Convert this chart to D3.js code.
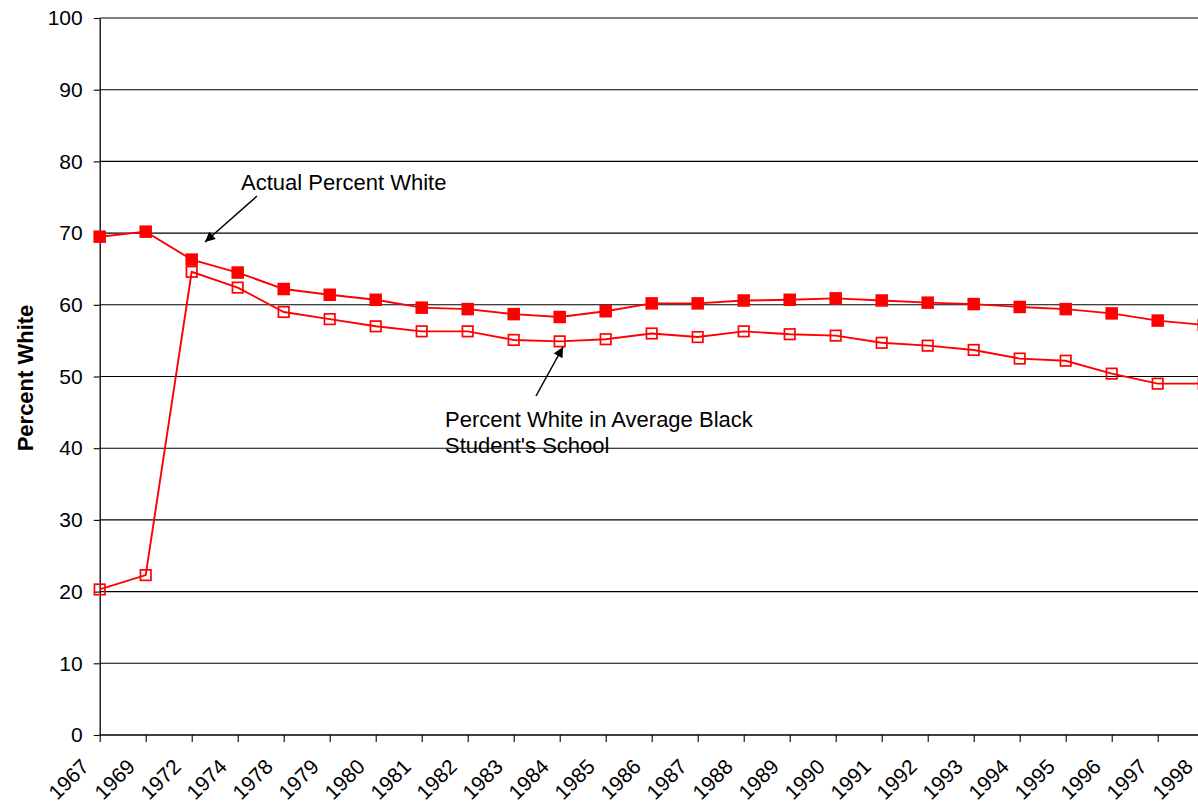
<!DOCTYPE html>
<html>
<head>
<meta charset="utf-8">
<script src="https://cdn.jsdelivr.net/npm/d3@7"></script>
<style>
  html, body { margin: 0; padding: 0; background: #fff; overflow: hidden; }
  svg { display: block; font-family: Arial, "Liberation Sans", sans-serif; }
</style>
</head>
<body>
<svg id="chart" width="1198" height="806"></svg>
<script>
// Survey years along the category axis
const years = ["1967","1969","1972","1974","1978","1979","1980","1981","1982","1983",
  "1984","1985","1986","1987","1988","1989","1990","1991","1992","1993",
  "1994","1995","1996","1997","1998"];

// Percent white of all students
const actualWhite = [69.5, 70.2, 66.3, 64.5, 62.2, 61.4, 60.7, 59.6, 59.4, 58.7,
  58.3, 59.1, 60.2, 60.2, 60.6, 60.7, 60.9, 60.6, 60.3, 60.1,
  59.7, 59.4, 58.8, 57.8, 57.2];

// Percent white in the school of the average black student
const blackSchoolWhite = [20.3, 22.3, 64.6, 62.4, 59.0, 58.0, 57.0, 56.3, 56.3, 55.1,
  54.9, 55.2, 56.0, 55.5, 56.3, 55.9, 55.7, 54.7, 54.3, 53.7,
  52.5, 52.2, 50.4, 49.0, 49.0];

const yTicks = [0, 10, 20, 30, 40, 50, 60, 70, 80, 90, 100];

const svg = d3.select("#chart");
const plotLeft = 99.7, plotTop = 18, plotBottom = 735;
const step = 46.0;

const x = d3.scalePoint().domain(years).range([plotLeft, plotLeft + step * (years.length - 1)]);
const y = d3.scaleLinear().domain([0, 100]).range([plotBottom, plotTop]);

// Horizontal gridlines
svg.append("g")
  .selectAll("line")
  .data(yTicks.filter(d => d > 0))
  .join("line")
  .attr("x1", plotLeft).attr("x2", 1198)
  .attr("y1", d => y(d)).attr("y2", d => y(d))
  .attr("stroke", "#000").attr("stroke-width", 1.1);

// Y axis
const yAxis = svg.append("g")
  .attr("transform", `translate(${plotLeft},0)`)
  .call(d3.axisLeft(y).tickValues(yTicks).tickSize(6).tickSizeOuter(0).tickPadding(11));
yAxis.select(".domain").attr("stroke", "#000").attr("stroke-width", 1.3);
yAxis.selectAll(".tick line").attr("stroke", "#000").attr("stroke-width", 1.1);
yAxis.selectAll(".tick text")
  .attr("font-size", 21).attr("fill", "#000")
  .attr("font-family", "Arial, 'Liberation Sans', sans-serif");

// X axis
const xAxis = svg.append("g")
  .attr("transform", `translate(0,${plotBottom})`)
  .call(d3.axisBottom(x).tickSize(7).tickSizeOuter(0));
xAxis.select(".domain").attr("stroke", "#000").attr("stroke-width", 1.3)
  .attr("d", `M${plotLeft},0H1198`);
xAxis.selectAll(".tick line").attr("stroke", "#000").attr("stroke-width", 1.1);
xAxis.selectAll(".tick text")
  .attr("font-size", 21).attr("fill", "#000")
  .attr("font-family", "Arial, 'Liberation Sans', sans-serif")
  .attr("text-anchor", "end")
  .attr("dy", null)
  .attr("y", 0)
  .attr("transform", "translate(-10,33) rotate(-45)");

// Y axis title
svg.append("text")
  .attr("transform", "translate(33,378) rotate(-90)")
  .attr("text-anchor", "middle")
  .attr("font-size", 22).attr("font-weight", "bold")
  .text("Percent White");

const red = "#ff0000";
const line = d3.line().x((d, i) => x(years[i])).y(d => y(d));

// Series lines
svg.append("path").datum(actualWhite)
  .attr("d", line).attr("fill", "none").attr("stroke", red).attr("stroke-width", 1.9);
svg.append("path").datum(blackSchoolWhite)
  .attr("d", line).attr("fill", "none").attr("stroke", red).attr("stroke-width", 1.9);

// Filled square markers
const fs = 12.5;
svg.append("g").selectAll("rect")
  .data(actualWhite)
  .join("rect")
  .attr("x", (d, i) => x(years[i]) - fs / 2)
  .attr("y", d => y(d) - fs / 2)
  .attr("width", fs).attr("height", fs)
  .attr("fill", red);

// Hollow square markers
const hs = 10.5;
svg.append("g").selectAll("rect")
  .data(blackSchoolWhite)
  .join("rect")
  .attr("x", (d, i) => x(years[i]) - hs / 2)
  .attr("y", d => y(d) - hs / 2)
  .attr("width", hs).attr("height", hs)
  .attr("fill", "none").attr("stroke", red).attr("stroke-width", 1.7);

// Arrowhead
svg.append("defs").append("marker")
  .attr("id", "arrow")
  .attr("viewBox", "0 0 10 10")
  .attr("refX", 10).attr("refY", 5)
  .attr("markerWidth", 12).attr("markerHeight", 10)
  .attr("markerUnits", "userSpaceOnUse")
  .attr("orient", "auto")
  .append("path").attr("d", "M0,0L10,5L0,10Z").attr("fill", "#000");

// Annotations
svg.append("text")
  .attr("x", 241).attr("y", 190)
  .attr("font-size", 22).attr("fill", "#000")
  .text("Actual Percent White");
svg.append("line")
  .attr("x1", 257).attr("y1", 196).attr("x2", 205).attr("y2", 242)
  .attr("stroke", "#000").attr("stroke-width", 1.5)
  .attr("marker-end", "url(#arrow)");

const note = svg.append("text")
  .attr("x", 445).attr("y", 427)
  .attr("font-size", 22).attr("fill", "#000");
note.append("tspan").attr("x", 445).text("Percent White in Average Black");
note.append("tspan").attr("x", 445).attr("dy", 26).text("Student's School");
svg.append("line")
  .attr("x1", 536).attr("y1", 396).attr("x2", 563).attr("y2", 347)
  .attr("stroke", "#000").attr("stroke-width", 1.5)
  .attr("marker-end", "url(#arrow)");
</script>
</body>
</html>
